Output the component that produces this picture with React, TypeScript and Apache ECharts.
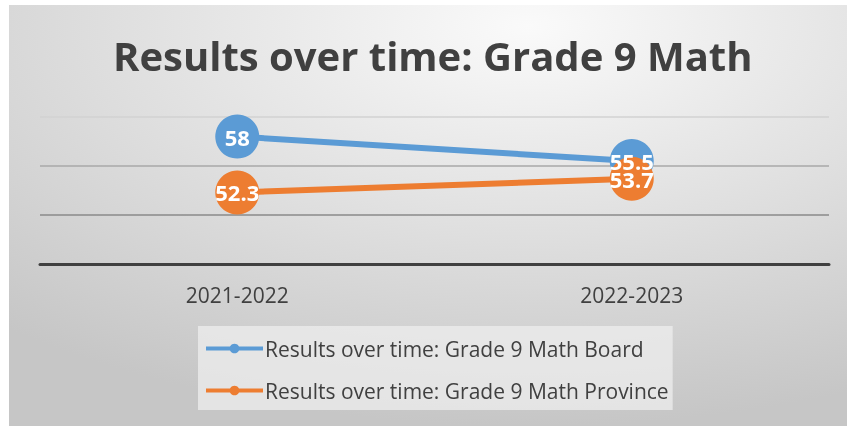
import React, { useEffect, useRef } from "react";
import * as echarts from "echarts";

const categories = ["2021-2022", "2022-2023"];
const boardValues = [58, 55.5];
const provinceValues = [52.3, 53.7];
const seriesNames = [
  "Results over time: Grade 9 Math Board",
  "Results over time: Grade 9 Math Province",
];
const titleText = "Results over time: Grade 9 Math";
const yMin = 45;
const yMax = 60;
const yInterval = 5;

const FONT = "'Open Sans', 'Noto Sans', sans-serif";

export default function App() {
  const ref = useRef<HTMLDivElement>(null);
  useEffect(() => {
    if (!ref.current) return;
    const chart = echarts.init(ref.current, undefined, { renderer: "svg" });
    const labelCfg = {
      show: true,
      position: "inside",
      color: "#ffffff",
      opacity: 1,
      fontWeight: "bold",
      fontSize: 22,
      fontFamily: FONT,
      textBorderWidth: 0,
      textBorderColor: "transparent",
      textShadowBlur: 0,
    };
    const lineSeries = (name: string, data: number[], color: string, z: number) => ({
      name,
      type: "line",
      data,
      symbol: "circle",
      symbolSize: 44,
      color,
      lineStyle: { width: 6, color },
      itemStyle: { color },
      label: { show: false },
      z,
    });
    const labelSeries = (data: number[]) => ({
      type: "scatter",
      data,
      symbol: "circle",
      symbolSize: 1,
      itemStyle: { color: "rgba(0,0,0,0)", opacity: 1 },
      label: labelCfg,
      silent: true,
      z: 10,
    });
    chart.setOption({
      animation: false,
      backgroundColor: new echarts.graphic.RadialGradient(0.62, 0.05, 0.95, [
        { offset: 0, color: "#fafafa" },
        { offset: 1, color: "#c6c6c6" },
      ]),
      title: {
        text: titleText,
        left: 99,
        top: 25,
        textStyle: {
          fontFamily: FONT,
          fontWeight: "bold",
          fontSize: 40,
          color: "#404040",
        },
      },
      grid: { left: 31, right: 18, top: 112, bottom: 162 },
      legend: {
        orient: "vertical",
        left: 189,
        top: 321,
        padding: [12, 4, 9, 6],
        itemGap: 21,
        itemWidth: 57,
        itemHeight: 12,
        backgroundColor: "rgba(238,238,238,0.75)",
        lineStyle: { width: 4 },
        textStyle: { fontFamily: FONT, fontSize: 21, color: "#404040", padding: [0, 0, 0, -3] },
        data: seriesNames,
      },
      xAxis: {
        type: "category",
        data: categories,
        boundaryGap: true,
        axisLine: { show: true, lineStyle: { color: "#404040", width: 3 } },
        axisTick: { show: false },
        axisLabel: { fontFamily: FONT, fontSize: 21, color: "#404040", margin: 20 },
      },
      yAxis: {
        type: "value",
        min: yMin,
        max: yMax,
        interval: yInterval,
        axisLine: { show: false },
        axisTick: { show: false },
        axisLabel: { show: false },
        splitLine: {
          show: true,
          lineStyle: { color: ["#404040", "#8a8a8a", "#a8a8a8", "#d2d2d2"], width: 1.5 },
        },
      },
      series: [
        lineSeries(seriesNames[0], boardValues, "#5b9bd5", 2),
        lineSeries(seriesNames[1], provinceValues, "#ed7d31", 3),
        labelSeries(boardValues),
        labelSeries(provinceValues),
      ],
    });
    return () => chart.dispose();
  }, []);
  return (
    <div
      ref={ref}
      style={{ position: "fixed", left: 9, top: 5, width: 838, height: 421 }}
    />
  );
}
